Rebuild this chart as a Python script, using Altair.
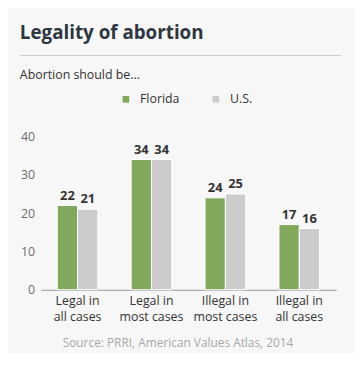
import altair as alt
import pandas as pd

categories = ["Legal in|all cases", "Legal in|most cases", "Illegal in|most cases", "Illegal in|all cases"]
florida = [22, 34, 24, 17]
us = [21, 34, 25, 16]
series = ["Florida", "U.S."]
colors = ["#82a85b", "#cccccc"]
title_text = "Legality of abortion"
subtitle_text = "Abortion should be..."
source_text = "Source: PRRI, American Values Atlas, 2014"

rows = []
for c, f, u in zip(categories, florida, us):
    rows.append({"cat": c, "series": "Florida", "value": f})
    rows.append({"cat": c, "series": "U.S.", "value": u})
df = pd.DataFrame(rows)

FONT = "Open Sans"

x = alt.X("cat:N", sort=categories, title=None,
          scale=alt.Scale(paddingInner=0.45, paddingOuter=0.225),
          axis=alt.Axis(labelAngle=0, labelExpr="split(datum.label, '|')",
                        labelFontSize=12.5, labelColor="#333333", labelFont=FONT,
                        labelLineHeight=16, labelPadding=5, ticks=False,
                        domainColor="#999999", domainWidth=1.2, labelBaseline="top"))
xo = alt.XOffset("series:N", sort=series, scale=alt.Scale(paddingInner=0, paddingOuter=0))
y = alt.Y("value:Q", title=None,
          scale=alt.Scale(domain=[0, 40], nice=False),
          axis=alt.Axis(values=[0, 10, 20, 30, 40], grid=False, domain=False, ticks=False,
                        labelFontSize=12.5, labelColor="#6b6b6b", labelFont=FONT, labelPadding=6))
color = alt.Color("series:N", sort=series, scale=alt.Scale(domain=series, range=colors),
                  legend=alt.Legend(title=None, orient="none", direction="horizontal",
                                    legendX=80, legendY=-44, symbolType="square", symbolSize=45,
                                    symbolStrokeWidth=0, labelFontSize=12.5, labelFont=FONT,
                                    labelColor="#333333", labelOffset=8, columnPadding=30))

base = alt.Chart(df)
bars = base.mark_bar(stroke="white", strokeWidth=1).encode(x=x, xOffset=xo, y=y, color=color)
labels = base.mark_text(dy=-6, baseline="alphabetic", fontWeight="bold", fontSize=13,
                        font=FONT, color="#333333").encode(
    x=x, xOffset=xo, y=y, text=alt.Text("value:Q"))

one = pd.DataFrame({"t": [title_text], "s": [subtitle_text], "src": [source_text]})
title = alt.Chart(one).mark_text(align="left", baseline="alphabetic", fontSize=19,
                                 fontWeight="bold", font=FONT, color="#2e3641").encode(
    text="t:N", x=alt.value(-21), y=alt.value(-99))
rule = alt.Chart(one).mark_rule(color="#cccccc", strokeWidth=1).encode(
    x=alt.value(-21), x2=alt.value(304), y=alt.value(-82))
subtitle = alt.Chart(one).mark_text(align="left", baseline="alphabetic", fontSize=12.5,
                                    font=FONT, color="#333333").encode(
    text="s:N", x=alt.value(-21), y=alt.value(-58))
source = alt.Chart(one).mark_text(align="center", baseline="alphabetic", fontSize=12,
                                  font=FONT, color="#a8a8a8").encode(
    text="src:N", x=alt.value(139), y=alt.value(213))

chart = alt.layer(bars, labels, title, rule, subtitle, source).properties(
    width=299, height=155,
    autosize=alt.AutoSizeParams(type="none"),
    padding={"left": 33, "top": 128, "right": 19, "bottom": 62},
    background="#f7f7f7",
).configure_view(stroke=None)

chart.save("out.html", embed_options={"renderer": "svg", "actions": False})
